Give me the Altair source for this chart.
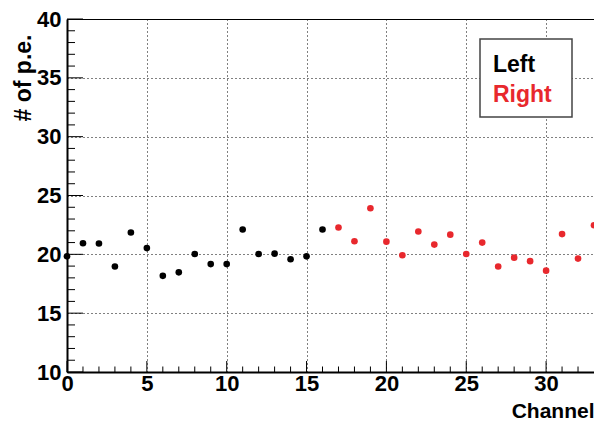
import altair as alt
import pandas as pd

# ---- data ----
left_channels = [0, 1, 2, 3, 4, 5, 6, 7, 8, 9, 10, 11, 12, 13, 14, 15, 16]
left_pe = [19.83, 20.94, 20.92, 18.97, 21.86, 20.53, 18.17, 18.47, 20.03,
           19.17, 19.17, 22.11, 20.03, 20.06, 19.58, 19.83, 22.11]
right_channels = [17, 18, 19, 20, 21, 22, 23, 24, 25, 26, 27, 28, 29, 30, 31, 32, 33]
right_pe = [22.28, 21.11, 23.92, 21.08, 19.92, 21.94, 20.83, 21.67, 20.03,
            21.00, 18.97, 19.72, 19.42, 18.61, 21.72, 19.64, 22.47]
series_names = ["Left", "Right"]
series_colors = ["#000000", "#e8282d"]

x_major = [0, 5, 10, 15, 20, 25, 30]
x_minor = [1, 2, 3, 4, 6, 7, 8, 9, 11, 12, 13, 14, 16, 17, 18, 19, 21, 22, 23, 24,
           26, 27, 28, 29, 31, 32]
y_major = [10, 15, 20, 25, 30, 35, 40]
y_minor = [11, 12, 13, 14, 16, 17, 18, 19, 21, 22, 23, 24, 26, 27, 28, 29,
           31, 32, 33, 34, 36, 37, 38, 39]

W, H = 527, 353
FONT = "Liberation Sans"

df = pd.DataFrame({
    "channel": left_channels + right_channels,
    "pe": left_pe + right_pe,
    "side": [series_names[0]] * len(left_channels) + [series_names[1]] * len(right_channels),
})

xscale = alt.Scale(domain=[0, 33], nice=False, zero=False)
yscale = alt.Scale(domain=[10, 40], nice=False, zero=False)

x_axis = alt.Axis(values=x_major, ticks=False, tickSize=0, labelPadding=1,
                  labelFont=FONT, labelFontWeight="bold", labelFontSize=22,
                  labelColor="black", labelFlush=False, labelOverlap=False,
                  domainColor="black", domainWidth=2,
                  grid=True, gridColor="black", gridDash=[1, 3], gridWidth=1,
                  title="Channel", titleFont=FONT, titleFontWeight="bold",
                  titleFontSize=21, titleColor="black", titleAnchor="end",
                  titleAlign="right", titleX=W, titleY=45, titleBaseline="alphabetic")
y_axis = alt.Axis(values=y_major, ticks=False, tickSize=0, labelPadding=6,
                  labelFont=FONT, labelFontWeight="bold", labelFontSize=22,
                  labelColor="black", labelFlush=False, labelOverlap=False,
                  domainColor="black", domainWidth=2,
                  grid=True, gridColor="black", gridDash=[1, 3], gridWidth=1,
                  title="# of p.e.", titleFont=FONT, titleFontWeight="bold",
                  titleFontSize=23, titleColor="black", titleAngle=270,
                  titleAnchor="end", titleAlign="right", titleX=-37, titleY=15,
                  titleBaseline="alphabetic")

points = alt.Chart(df).mark_circle(size=44, opacity=1).encode(
    x=alt.X("channel:Q", scale=xscale, axis=x_axis),
    y=alt.Y("pe:Q", scale=yscale, axis=y_axis),
    color=alt.Color("side:N", scale=alt.Scale(domain=series_names, range=series_colors),
                    legend=None),
)

def xticks(vals, length):
    return alt.Chart(pd.DataFrame({"v": vals})).mark_rule(color="black", strokeWidth=1).encode(
        x=alt.X("v:Q", scale=xscale),
        y=alt.value(H), y2=alt.value(H - length))

def yticks(vals, length):
    return alt.Chart(pd.DataFrame({"v": vals})).mark_rule(color="black", strokeWidth=1).encode(
        y=alt.Y("v:Q", scale=yscale),
        x=alt.value(0), x2=alt.value(length))

box = alt.Chart(pd.DataFrame({"a": [0]})).mark_rect(
    fill="white", stroke="#444444", strokeWidth=1.5).encode(
    x=alt.value(413), x2=alt.value(505), y=alt.value(20), y2=alt.value(98))

leg_left = alt.Chart(pd.DataFrame({"t": [series_names[0]]})).mark_text(
    font=FONT, fontWeight="bold", fontSize=23, color=series_colors[0],
    align="left", baseline="alphabetic").encode(
    text="t:N", x=alt.value(426), y=alt.value(53))
leg_right = alt.Chart(pd.DataFrame({"t": [series_names[1]]})).mark_text(
    font=FONT, fontWeight="bold", fontSize=23, color=series_colors[1],
    align="left", baseline="alphabetic").encode(
    text="t:N", x=alt.value(426), y=alt.value(83))

chart = alt.layer(
    xticks(x_minor, 5.5), xticks(x_major, 11),
    yticks(y_minor, 8), yticks(y_major, 16),
    points, box, leg_left, leg_right,
).properties(
    width=W, height=H,
    autosize=alt.AutoSizeParams(type="none"),
    padding={"left": 59, "top": 11, "right": 0, "bottom": 50},
    background="white",
).configure_view(stroke="black", strokeWidth=1)

chart.save("out.html", embed_options={"renderer": "svg", "actions": False})
